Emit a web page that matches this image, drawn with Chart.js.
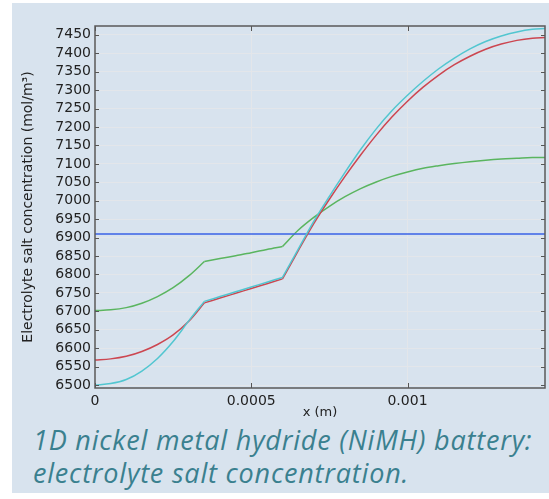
<!DOCTYPE html>
<html>
<head>
<meta charset="utf-8">
<script src="https://cdn.jsdelivr.net/npm/chart.js@4"></script>
<style>
  html, body { margin: 0; padding: 0; background: #fff; }
  body { width: 549px; height: 499px; position: relative; overflow: hidden; }
  #panel { position: absolute; left: 12px; top: 3px; width: 537px; height: 490px; background: #d8e3ee; }
  #wrap { position: absolute; left: 0; top: 0; width: 549px; height: 420px; }
  #caption {
    position: absolute; left: 33px; top: 423px;
    font-family: "Open Sans", sans-serif; font-style: italic;
    font-size: 27px; letter-spacing: 0.8px; line-height: 33px; color: #3a808f;
    white-space: nowrap;
  }
</style>
</head>
<body>
<div id="panel"></div>
<div id="wrap"><canvas id="chart" width="549" height="420"></canvas></div>
<div id="caption">1D nickel metal hydride (NiMH) battery:<br>electrolyte salt concentration.</div>
<script>
const xs = [0, 0.00005, 0.0001, 0.00015, 0.0002, 0.00025, 0.0003, 0.00035, 0.0004, 0.00045,
            0.0005, 0.00055, 0.0006, 0.00065, 0.0007, 0.00075, 0.0008, 0.00085, 0.0009, 0.00095,
            0.001, 0.00105, 0.0011, 0.00115, 0.0012, 0.00125, 0.0013, 0.00135, 0.0014, 0.00144];

// concentration (mol/m^3)
const greenVals = [6702, 6704, 6710, 6722, 6740, 6764, 6796, 6835, 6843, 6851,
                   6859, 6868, 6876, 6920, 6955, 6985, 7011, 7033, 7051, 7066,
                   7078, 7088, 7095, 7101, 7106, 7110, 7113, 7115, 7117, 7117];
const redVals   = [6568, 6571, 6578, 6591, 6610, 6636, 6673, 6723, 6736, 6749,
                   6762, 6775, 6788, 6864, 6938, 7004, 7066, 7124, 7178, 7227,
                   7270, 7308, 7341, 7369, 7392, 7411, 7425, 7435, 7441, 7443];
const cyanVals  = [6500, 6504, 6515, 6538, 6572, 6618, 6674, 6727, 6740, 6753,
                   6766, 6779, 6792, 6868, 6944, 7012, 7077, 7139, 7195, 7244,
                   7286, 7324, 7358, 7387, 7412, 7432, 7447, 7458, 7465, 7467];
const blueX = [0, 0.00144];
const blueVals = [6910, 6910];

// the curves have kinks at the domain boundaries (index into xs)
const domainBreaks = [0, 7, 12, xs.length - 1];

const xTicks = [0, 0.0005, 0.001];
const xTickLabels = ['0', '0.0005', '0.001'];
const yTicks = [6500, 6550, 6600, 6650, 6700, 6750, 6800, 6850, 6900, 6950,
                7000, 7050, 7100, 7150, 7200, 7250, 7300, 7350, 7400, 7450];

const pts = (xv, yv, from, to) =>
    xv.slice(from, to + 1).map((x, i) => ({ x: x, y: yv[from + i] }));

// frame round the plot and inward tick marks
const framePlugin = {
    id: 'frame',
    afterDatasetsDraw(chart) {
        const { ctx, chartArea: a, scales: { x, y } } = chart;
        ctx.save();
        ctx.strokeStyle = '#555';
        ctx.lineWidth = 1;
        ctx.beginPath();
        y.ticks.forEach(t => {
            const py = Math.round(y.getPixelForValue(t.value)) + 0.5;
            ctx.moveTo(a.left, py); ctx.lineTo(a.left + 4, py);
            ctx.moveTo(a.right, py); ctx.lineTo(a.right - 4, py);
        });
        x.ticks.forEach(t => {
            const px = Math.round(x.getPixelForValue(t.value)) + 0.5;
            ctx.moveTo(px, a.top); ctx.lineTo(px, a.top + 5);
            ctx.moveTo(px, a.bottom); ctx.lineTo(px, a.bottom - 5);
        });
        ctx.stroke();
        ctx.lineWidth = 1.5;
        ctx.strokeStyle = '#5a5a5a';
        ctx.strokeRect(a.left, a.top, a.right - a.left, a.bottom - a.top);
        ctx.restore();
    }
};

// one dataset per domain so the kinks stay sharp
function series(label, vals, color, order) {
    const out = [];
    for (let k = 0; k < domainBreaks.length - 1; k++) {
        out.push({
            label, data: pts(xs, vals, domainBreaks[k], domainBreaks[k + 1]),
            borderColor: color, borderWidth: 1.5, pointRadius: 0,
            cubicInterpolationMode: 'monotone', fill: false, order
        });
    }
    return out;
}

new Chart(document.getElementById('chart'), {
    type: 'line',
    data: {
        datasets: [
            ...series('green', greenVals, '#5ab55f', 4),
            { label: 'blue', data: pts(blueX, blueVals, 0, 1), borderColor: '#3a62e6',
              borderWidth: 1.5, pointRadius: 0, fill: false, order: 3 },
            ...series('red', redVals, '#cc4650', 2),
            ...series('cyan', cyanVals, '#52c6d0', 1)
        ]
    },
    options: {
        responsive: false,
        animation: false,
        layout: { padding: { top: 26, right: 4, left: 0, bottom: 0 } },
        plugins: { legend: { display: false }, tooltip: { enabled: false } },
        scales: {
            x: {
                type: 'linear', min: 0, max: 0.00144,
                afterBuildTicks: s => { s.ticks = xTicks.map(v => ({ value: v })); },
                afterFit: s => { s.height = 32; },
                ticks: {
                    callback: (v, i) => xTickLabels[i],
                    color: '#222', padding: 5, maxRotation: 0, autoSkip: false,
                    font: { family: 'DejaVu Sans', size: 14 }
                },
                grid: { color: '#e3e6ea', drawTicks: false },
                border: { display: false },
                title: {
                    display: true, text: 'x (m)', color: '#222',
                    padding: { top: 0, bottom: 0 },
                    font: { family: 'DejaVu Sans', size: 13 }
                }
            },
            y: {
                type: 'linear', min: 6492, max: 7474,
                afterBuildTicks: s => { s.ticks = yTicks.map(v => ({ value: v })); },
                afterFit: s => { s.width = 95; },
                ticks: {
                    callback: v => String(v),
                    color: '#222', padding: 4, autoSkip: false,
                    font: { family: 'DejaVu Sans', size: 14 }
                },
                grid: { color: '#e3e6ea', drawTicks: false },
                border: { display: false },
                title: {
                    display: true, text: 'Electrolyte salt concentration (mol/m³)',
                    color: '#222',
                    padding: { top: 20, bottom: 0 },
                    font: { family: 'DejaVu Sans', size: 14 }
                }
            }
        }
    },
    plugins: [framePlugin]
});
</script>
</body>
</html>
